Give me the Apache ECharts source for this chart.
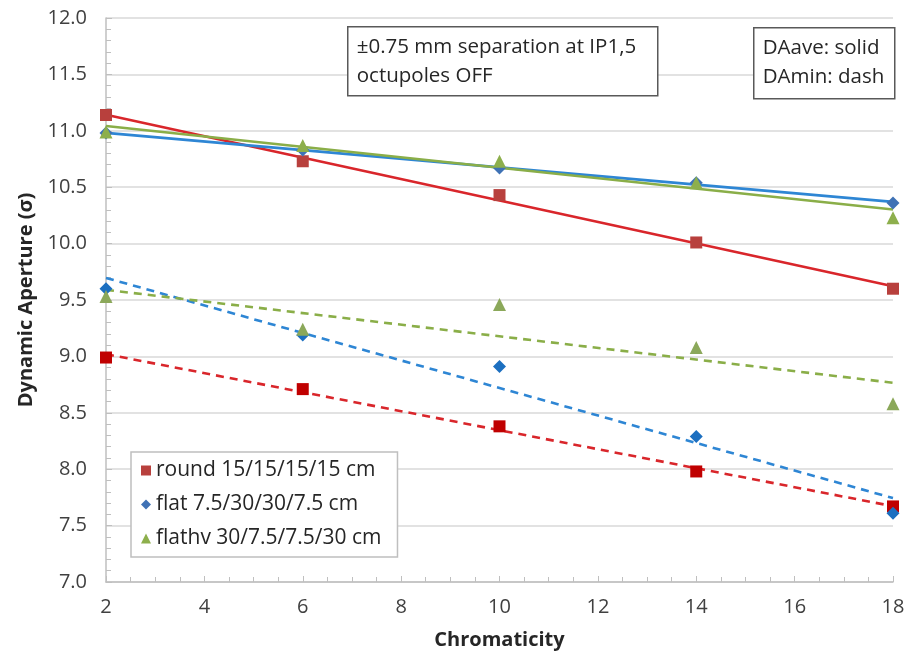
<!DOCTYPE html>
<html>
<head>
<meta charset="utf-8">
<script src="https://cdn.jsdelivr.net/npm/echarts@6/dist/echarts.min.js"></script>
<style>
  html, body { margin: 0; padding: 0; background: #fff; }
  #chart { width: 909px; height: 655px; }
</style>
</head>
<body>
<div id="chart"></div>
<script>
// Chromaticity scan points
const chroma = [2, 6, 10, 14, 18];

// Dynamic aperture (sigma), average over seeds
const roundAve  = [11.14, 10.73, 10.43, 10.01, 9.60];
const flatAve   = [10.98, 10.83, 10.67, 10.54, 10.36];
const flathvAve = [10.99, 10.87, 10.73, 10.54, 10.23];

// Dynamic aperture (sigma), minimum over seeds
const roundMin  = [8.99, 8.71, 8.38, 7.98, 7.67];
const flatMin   = [9.60, 9.19, 8.91, 8.29, 7.61];
const flathvMin = [9.53, 9.24, 9.46, 9.08, 8.58];

const seriesNames = ['round 15/15/15/15 cm', 'flat 7.5/30/30/7.5 cm', 'flathv 30/7.5/7.5/30 cm'];

const FONT = '"Open Sans", "Noto Sans", sans-serif';

// least-squares linear trend evaluated at the ends of the scan
function trend(xs, ys) {
  const n = xs.length;
  const mx = xs.reduce((a, b) => a + b, 0) / n;
  const my = ys.reduce((a, b) => a + b, 0) / n;
  let sxy = 0, sxx = 0;
  for (let i = 0; i < n; i++) {
    sxy += (xs[i] - mx) * (ys[i] - my);
    sxx += (xs[i] - mx) * (xs[i] - mx);
  }
  const k = sxy / sxx;
  const x0 = xs[0], x1 = xs[n - 1];
  return [[x0, my + k * (x0 - mx)], [x1, my + k * (x1 - mx)]];
}

const pts = ys => chroma.map((x, i) => [x, ys[i]]);

function scatter(name, ys, symbol, size, color) {
  return {
    name: name, type: 'scatter', data: pts(ys),
    symbol: symbol, symbolSize: size,
    itemStyle: { color: color, opacity: 1 }, z: 4
  };
}
function fit(ys, color, dashed) {
  return {
    type: 'line', data: trend(chroma, ys), symbol: 'none', silent: true,
    lineStyle: { color: color, width: 2.6, type: dashed ? [8, 6] : 'solid' },
    z: 3
  };
}

// boxed note drawn on top of the plot area
function note(left, top, width, height, text) {
  return {
    type: 'group', left: left, top: top,
    children: [
      { type: 'rect', z: 100, shape: { x: 0, y: 0, width: width, height: height },
        style: { fill: '#fff', stroke: '#595959', lineWidth: 1.5 } },
      { type: 'text', z: 101, x: 9, y: 6,
        style: { text: text, font: '20.5px ' + FONT, lineHeight: 29, fill: '#262626' } }
    ]
  };
}

const chart = echarts.init(document.getElementById('chart'));
chart.setOption({
  backgroundColor: '#fff',
  animation: false,
  grid: { left: 106, right: 16, top: 18, bottom: 72 },
  xAxis: {
    type: 'value', min: 2, max: 18, interval: 2,
    name: 'Chromaticity', nameLocation: 'middle', nameGap: 48,
    nameTextStyle: { fontFamily: FONT, fontSize: 20, fontWeight: 'bold', color: '#262626' },
    axisLine: { lineStyle: { color: '#BFBFBF', width: 1.5 } },
    axisTick: { show: true, inside: true, length: 6, lineStyle: { color: '#BFBFBF' } },
    minorTick: { show: true, splitNumber: 4, length: 5, lineStyle: { color: '#BFBFBF' } },
    axisLabel: { fontFamily: FONT, fontSize: 20, color: '#404040', margin: 15 },
    splitLine: { show: false }
  },
  yAxis: {
    type: 'value', min: 7, max: 12, interval: 0.5,
    name: 'Dynamic Aperture (σ)', nameLocation: 'middle', nameGap: 70,
    nameTextStyle: { fontFamily: FONT, fontSize: 20, fontWeight: 'bold', color: '#262626' },
    axisLine: { show: true, lineStyle: { color: '#BFBFBF', width: 1.5 } },
    axisTick: { show: true, inside: true, length: 6, lineStyle: { color: '#BFBFBF' } },
    minorTick: { show: true, splitNumber: 5, length: 5, lineStyle: { color: '#BFBFBF' } },
    axisLabel: {
      fontFamily: FONT, fontSize: 20, color: '#404040', margin: 19,
      formatter: v => v.toFixed(1)
    },
    splitLine: { show: true, lineStyle: { color: '#D9D9D9', width: 1.5 } }
  },
  legend: {
    data: seriesNames,
    orient: 'vertical', left: 131, top: 452,
    padding: [8, 16, 8, 10], itemGap: 13,
    itemWidth: 10, itemHeight: 10,
    backgroundColor: '#fff', borderColor: '#BFBFBF', borderWidth: 1.5,
    textStyle: { fontFamily: FONT, fontSize: 21, color: '#262626' },
    z: 10
  },
  series: [
    fit(roundAve, '#D9262B', false),
    fit(flatAve, '#2E86D4', false),
    fit(flathvAve, '#8AAE48', false),
    fit(roundMin, '#D9262B', true),
    fit(flatMin, '#2E86D4', true),
    fit(flathvMin, '#8AAE48', true),
    scatter(seriesNames[0], roundAve, 'rect', 12, '#B8403D'),
    scatter(seriesNames[1], flatAve, 'diamond', 13, '#3F72B5'),
    scatter(seriesNames[2], flathvAve, 'triangle', 13, '#8DAF4C'),
    scatter('round min', roundMin, 'rect', 12, '#C00000'),
    scatter('flat min', flatMin, 'diamond', 13, '#1C6FC0'),
    scatter('flathv min', flathvMin, 'triangle', 13, '#8BA85A')
  ],
  graphic: [
    note(347, 26, 310, 69, '±0.75 mm separation at IP1,5\noctupoles OFF'),
    note(753, 27, 141, 71, 'DAave: solid\nDAmin: dash')
  ]
});
</script>
</body>
</html>
